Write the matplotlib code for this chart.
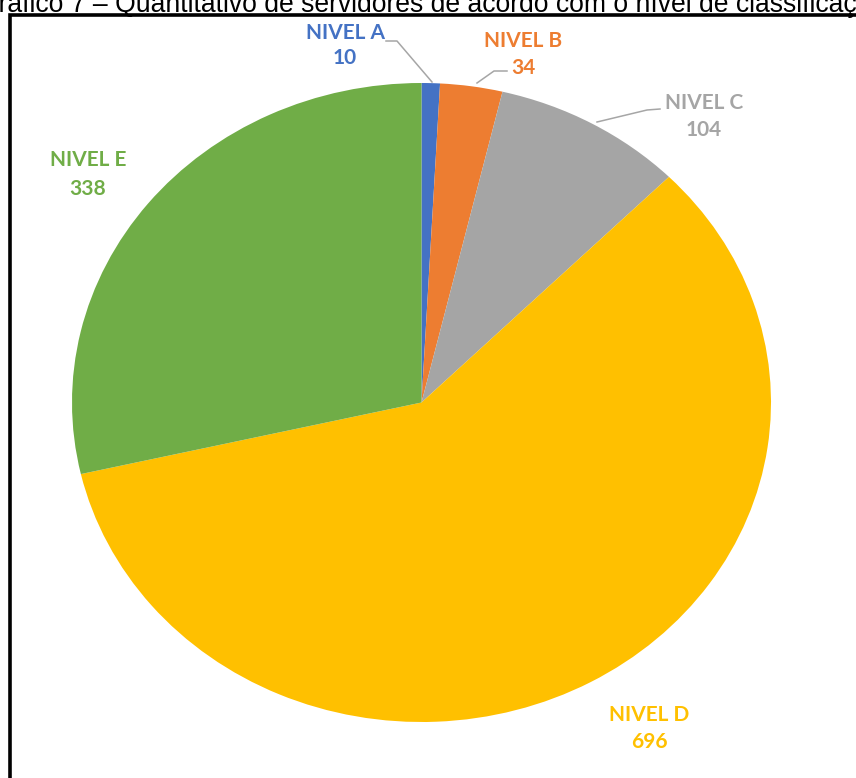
import matplotlib.pyplot as plt
from matplotlib.lines import Line2D

# Servidores por nível de classificação
niveis = ['NIVEL A', 'NIVEL B', 'NIVEL C', 'NIVEL D', 'NIVEL E']
quantidades = [10, 34, 104, 696, 338]
cores = ['#4472C4', '#ED7D31', '#A5A5A5', '#FFC000', '#70AD47']

W, H = 856, 778
fig = plt.figure(figsize=(W / 100, H / 100), dpi=100)


def px(x, y):
    # pixel (from top-left) -> figure fraction
    return x / W, 1 - y / H


def linha(pts, **kw):
    xs = [px(*p)[0] for p in pts]
    ys = [px(*p)[1] for p in pts]
    fig.add_artist(Line2D(xs, ys, transform=fig.transFigure, **kw))


# moldura do gráfico (lados esquerdo e superior)
linha([(9.5, 800), (9.5, 14.7), (900, 14.7)], color='black', linewidth=2.6,
      solid_joinstyle='miter')

# título (cortado no topo e nas laterais); o "G" fica fora, à esquerda
titulo = 'Gráfico 7 – Quantitativo de servidores de acordo com o nível de classificação'
fs_titulo = 19.1
renderer = fig.canvas.get_renderer()
t = fig.text(0, 0, 'G', fontsize=fs_titulo, family='Liberation Sans')
larg_g = t.get_window_extent(renderer).width
t.remove()
fig.text(*px(-larg_g - 1, 12), titulo, fontsize=fs_titulo, family='Liberation Sans',
         va='baseline', ha='left', color='black')

# área da pizza (levemente achatada)
left, top, right, bottom = 72, 83, 771, 722
ax = fig.add_axes([left / W, 1 - bottom / H, (right - left) / W, (bottom - top) / H])
ax.pie(quantidades, colors=cores, startangle=90, counterclock=False,
       wedgeprops=dict(linewidth=0))
ax.set_aspect('auto')
ax.set_xlim(-1, 1)
ax.set_ylim(-1, 1)
ax.axis('off')

# rótulos: (centro x, y do nome, y do valor)
pos_rotulos = [(345, 33, 58), (523, 41, 68), (704, 103, 130), (649, 715, 742), (88, 160, 189)]
for nome, valor, cor, (x, y1, y2) in zip(niveis, quantidades, cores, pos_rotulos):
    fig.text(*px(x, y1), nome, color=cor, fontsize=15, fontweight='bold',
             family='Lato', ha='center', va='center')
    fig.text(*px(x, y2), str(valor), color=cor, fontsize=15, fontweight='bold',
             family='Lato', ha='center', va='center')

# linhas de chamada
chamadas = [
    [(386, 41), (397, 41), (432, 82)],
    [(507, 71), (494, 71), (477, 83)],
    [(660, 109), (647, 110), (597, 122)],
]
for pts in chamadas:
    linha(pts, color='#A6A6A6', linewidth=1.1)

fig.savefig('out.png', dpi=100)
